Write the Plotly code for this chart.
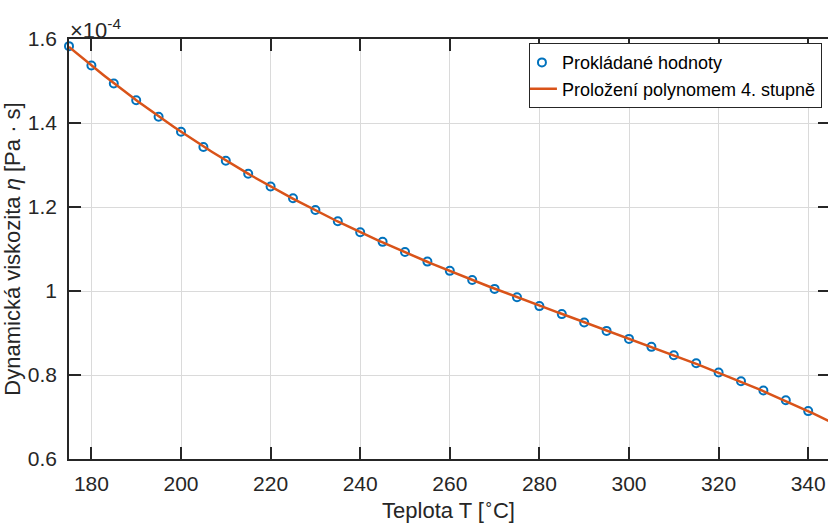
import numpy as np
import plotly.graph_objects as go

# Measured dynamic viscosity (in units of 1e-4 Pa·s) versus temperature
temperature_c = [175, 180, 185, 190, 195, 200, 205, 210, 215, 220, 225, 230,
                 235, 240, 245, 250, 255, 260, 265, 270, 275, 280, 285, 290,
                 295, 300, 305, 310, 315, 320, 325, 330, 335, 340, 345]
viscosity_e4 = [1.583, 1.537, 1.494, 1.454, 1.415, 1.379, 1.343, 1.310, 1.279,
                1.249, 1.221, 1.193, 1.166, 1.140, 1.117, 1.093, 1.070, 1.048,
                1.026, 1.005, 0.985, 0.964, 0.945, 0.925, 0.905, 0.886, 0.867,
                0.847, 0.828, 0.806, 0.785, 0.763, 0.740, 0.714, 0.686]

x_ticks = [180, 200, 220, 240, 260, 280, 300, 320, 340]
y_ticks = [0.6, 0.8, 1.0, 1.2, 1.4, 1.6]

# Fourth-degree polynomial fit of the measured points
coeffs = np.polyfit(temperature_c, viscosity_e4, 4)
t_fit = np.linspace(min(temperature_c), max(temperature_c), 400)
eta_fit = np.polyval(coeffs, t_fit)

FONT = "Liberation Sans, Arial, Helvetica, sans-serif"
INK = "#262626"
BLUE = "#0072BD"
ORANGE = "#D95319"

fig = go.Figure()
fig.add_trace(go.Scatter(
    x=temperature_c, y=viscosity_e4, mode="markers",
    name="Prokládané hodnoty",
    marker=dict(symbol="circle-open", size=8, color=BLUE, line=dict(width=2, color=BLUE)),
    cliponaxis=False,
))
fig.add_trace(go.Scatter(
    x=t_fit, y=eta_fit, mode="lines",
    name="Proložení polynomem 4. stupně",
    line=dict(color=ORANGE, width=2.5),
))
# helper trace so the right-hand tick axis is rendered
fig.add_trace(go.Scatter(
    x=[temperature_c[0]], y=[viscosity_e4[0]], yaxis="y2", mode="markers",
    marker=dict(opacity=0), showlegend=False, hoverinfo="skip",
))

fig.update_layout(
    width=828, height=523,
    margin=dict(l=69, r=0, t=39, b=64),
    paper_bgcolor="white", plot_bgcolor="white",
    font=dict(family=FONT, size=21, color=INK),
    showlegend=True,
    legend=dict(
        x=0.992, xanchor="right", y=0.99, yanchor="top",
        bgcolor="white", bordercolor=INK, borderwidth=1,
        font=dict(size=18, color="black"),
        tracegroupgap=0, indentation=-8,
    ),
    xaxis=dict(
        range=[175, 344.42], tickvals=x_ticks, ticks="inside", ticklen=12,
        tickwidth=1.5, tickcolor=INK, showline=True, linecolor=INK, linewidth=1.5,
        mirror="ticks", showgrid=True, gridcolor="#dadada", gridwidth=1,
        zeroline=False, ticklabelstandoff=5, automargin=False,
        title=dict(text="Teplota T [<sup>∘</sup>C]", font=dict(size=22), standoff=2),
    ),
    yaxis=dict(
        range=[0.6, 1.6], tickvals=y_ticks, ticks="inside", ticklen=12,
        tickwidth=1.5, tickcolor=INK, showline=True, linecolor=INK, linewidth=1.5,
        showgrid=True, gridcolor="#dadada", gridwidth=1, zeroline=False,
        ticklabelstandoff=6, automargin=False,
        title=dict(text="Dynamická viskozita <i>η</i> [Pa · s]", font=dict(size=22), standoff=2),
    ),
    yaxis2=dict(
        overlaying="y", side="right", anchor="x", range=[0.6, 1.6], tickvals=y_ticks,
        ticks="inside", ticklen=10, tickwidth=1.5, tickcolor=INK,
        showticklabels=False, showgrid=False, showline=False, zeroline=False,
    ),
    annotations=[dict(
        text="×10<sup>-4</sup>", xref="paper", yref="paper", x=0, y=1,
        xanchor="left", yanchor="bottom", showarrow=False,
        font=dict(size=22, color=INK), xshift=-1, yshift=-6,
    )],
)

fig.write_html("out.html")
